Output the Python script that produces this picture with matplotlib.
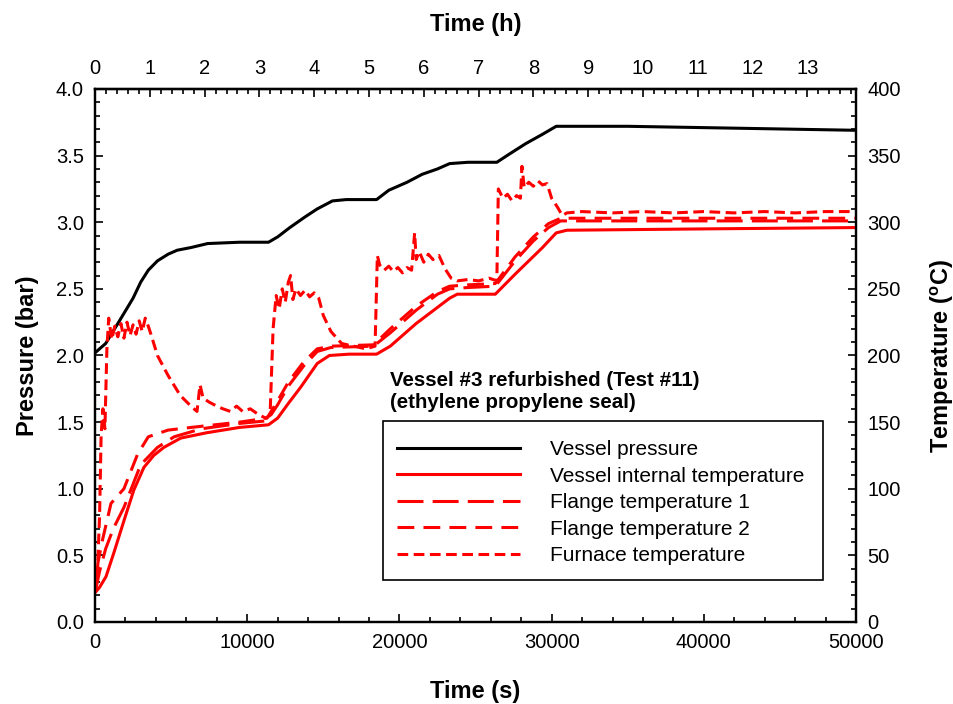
import matplotlib.pyplot as plt
from matplotlib.patches import Rectangle
from matplotlib.ticker import MultipleLocator

plt.rcParams['font.family'] = ['Liberation Sans', 'DejaVu Sans']
plt.rcParams['mathtext.fontset'] = 'custom'
plt.rcParams['mathtext.rm'] = 'Liberation Sans'
plt.rcParams['mathtext.bf'] = 'Liberation Sans:bold'

# Vessel pressure (bar)
pressure_t = [0, 700, 1500, 2500, 3000, 3500, 4100, 4800, 5400, 6300, 7400, 9500, 11400,
              12000, 12800, 13800, 14600, 15600, 16500, 18500, 19300, 20500, 21500,
              22500, 23300, 24500, 26400, 27200, 28300, 29400, 30300, 31000, 35000,
              40000, 45000, 50000]
pressure_bar = [2.02, 2.09, 2.24, 2.43, 2.55, 2.64, 2.71, 2.76, 2.79, 2.81, 2.84, 2.85, 2.85,
                2.89, 2.96, 3.04, 3.10, 3.16, 3.17, 3.17, 3.24, 3.30, 3.36,
                3.40, 3.44, 3.45, 3.45, 3.51, 3.59, 3.66, 3.72, 3.72, 3.72,
                3.71, 3.70, 3.69]

# Vessel internal temperature (C)
internal_t = [0, 300, 720, 1240, 1900, 2550, 3210, 3860, 4520, 5630, 7330, 9490, 11400,
              12000, 12700, 13500, 14600, 15400, 16700, 18500, 19400, 21100, 23300,
              23800, 26300, 27600, 29400, 30300, 31000, 40000, 50000]
internal_temp = [22, 26, 34, 52, 76, 99, 116, 125, 131, 138, 142, 146, 148,
                 153, 164, 176, 194, 200, 201, 201, 207, 224, 243,
                 246, 246, 261, 281, 292, 294, 295, 296]

# Flange temperature 1 (C)
flange1_t = [0, 300, 700, 1200, 1900, 3000, 4100, 5200, 7000, 9500, 11300, 12000, 12700,
             13700, 14600, 15500, 18300, 19400, 21100, 22500, 23300, 24500, 26300,
             27600, 28800, 29800, 30600, 35000, 50000]
flange1_temp = [22, 38, 55, 70, 86, 118, 131, 139, 145, 149, 151, 163, 177,
                192, 203, 206, 207, 217, 234, 246, 250, 251, 252,
                271, 286, 296, 301, 301, 301]

# Flange temperature 2 (C)
flange2_t = [0, 200, 500, 1050, 1900, 2800, 3500, 4800, 6300, 9500, 11300, 12000, 12700,
             13700, 14600, 15500, 18300, 19400, 21100, 22500, 23300, 24500, 26300,
             27600, 28800, 29800, 30600, 35000, 50000]
flange2_temp = [22, 45, 62, 89, 100, 126, 139, 144, 146, 150, 153, 166, 180,
                195, 205, 207, 208, 220, 237, 248, 252, 253, 254,
                274, 289, 299, 303, 303, 303]

# Furnace temperature (C)
furnace_t = [0, 150, 300, 400, 520, 650, 780, 900, 1100, 1300, 1500, 1700, 1900, 2100,
             2300, 2500, 2700, 2900, 3100, 3300, 3500, 3700, 4100, 4800, 5600, 6300,
             6700, 6900, 7100, 7500, 8000, 8400, 8900, 9300, 9700, 10200, 10700, 11200,
             11500, 11700, 11900, 12100, 12300, 12500, 12700, 12850, 13000, 13200,
             13500, 13800, 14100, 14400, 14700, 15000, 15500, 16200, 17000, 17800,
             18400, 18550, 18700, 19000, 19300, 19600, 19900, 20200, 20500, 20800,
             21000, 21100, 21300, 21600, 21900, 22200, 22600, 23000, 23400, 23800,
             24500, 25200, 25900, 26400, 26500, 26800, 27100, 27400, 27700, 27950,
             28050, 28200, 28500, 28800, 29100, 29400, 29700, 30000, 30400, 30700,
             31000, 32000, 34000, 36000, 38000, 40000, 42000, 44000, 46000, 48000,
             50000]
furnace_temp = [22, 35, 80, 140, 160, 145, 205, 228, 212, 222, 214, 224, 213, 225,
                215, 223, 216, 226, 218, 228, 222, 215, 200, 185, 170, 162,
                158, 178, 168, 165, 162, 160, 158, 162, 158, 160, 156, 153,
                155, 220, 245, 235, 250, 240, 255, 260, 242, 250,
                245, 249, 244, 247, 243, 230, 218, 209, 207, 205,
                207, 275, 268, 264, 267, 263, 266, 262, 266, 264,
                292, 272, 278, 270, 276, 272, 275, 265, 258, 256,
                257, 256, 258, 256, 325, 318, 321, 316, 320, 318,
                342, 326, 330, 327, 331, 328, 329, 318, 311, 305,
                307, 308, 307, 308, 307, 308, 307, 308, 307, 308,
                308]

hour_ticks = list(range(0, 14))

fig = plt.figure(figsize=(9.54, 7.04), dpi=100)
ax = fig.add_axes([0.0996, 0.1165, 0.7977, 0.7571])
ax2 = ax.twinx()

lw = 2.2
p_line, = ax.plot(pressure_t, pressure_bar, color='black', lw=lw,
                  label='Vessel pressure')
i_line, = ax2.plot(internal_t, internal_temp, color='red', lw=lw,
                   label='Vessel internal temperature')
f1_line, = ax2.plot(flange1_t, flange1_temp, color='red', lw=lw,
                    dashes=(8.5, 3), label='Flange temperature 1')
f2_line, = ax2.plot(flange2_t, flange2_temp, color='red', lw=lw,
                    dashes=(5.5, 3), label='Flange temperature 2')
fu_line, = ax2.plot(furnace_t, furnace_temp, color='red', lw=lw,
                    dashes=(3.5, 1.8), label='Furnace temperature')

ax.set_xlim(0, 50000)
ax.set_ylim(0, 4.0)
ax2.set_ylim(0, 400)

ax.xaxis.set_major_locator(MultipleLocator(10000))
ax.xaxis.set_minor_locator(MultipleLocator(2000))
ax.yaxis.set_major_locator(MultipleLocator(0.5))
ax.yaxis.set_minor_locator(MultipleLocator(0.1))
ax.yaxis.set_major_formatter(plt.FormatStrFormatter('%.1f'))
ax2.yaxis.set_major_locator(MultipleLocator(50))
ax2.yaxis.set_minor_locator(MultipleLocator(10))

secax = ax.secondary_xaxis('top', functions=(lambda s: s / 3600.0,
                                             lambda h: h * 3600.0))
secax.set_xticks(hour_ticks)
secax.xaxis.set_minor_locator(MultipleLocator(0.2))

tick_kw = dict(direction='in', labelsize=14.5, width=1.2, pad=8)
ax.tick_params(axis='both', which='major', length=6, top=False, right=False, **tick_kw)
ax.tick_params(axis='both', which='minor', length=3.3, top=False, right=False,
               direction='in', width=1.2)
ax2.tick_params(axis='y', which='major', length=6, **tick_kw)
ax2.tick_params(axis='y', which='minor', length=3.3, direction='in', width=1.2)
secax.tick_params(axis='x', which='major', length=6, **tick_kw)
secax.tick_params(axis='x', which='minor', length=3.3, direction='in', width=1.2)

for a in (ax, ax2):
    for sp in a.spines.values():
        sp.set_linewidth(1.6)
secax.spines['top'].set_linewidth(1.6)

label_kw = dict(fontsize=17, fontweight='bold')
ax.set_xlabel('Time (s)', labelpad=20, **label_kw)
ax.set_ylabel('Pressure (bar)', labelpad=12, **label_kw)
ax2.set_ylabel(r'Temperature ($\mathbf{^o}$C)', labelpad=20, **label_kw)
secax.set_xlabel('Time (h)', labelpad=20, **label_kw)

ax2.text(0.388, 0.432, 'Vessel #3 refurbished (Test #11)\n(ethylene propylene seal)',
         transform=ax2.transAxes, ha='left', va='center', fontsize=14.8,
         fontweight='bold')

# legend box drawn separately so its padding can differ per side
box = Rectangle((0.3785, 0.0788), 0.5781, 0.2983, transform=ax2.transAxes,
                facecolor='white', edgecolor='black', linewidth=1.2, zorder=4.5)
ax2.add_patch(box)
leg = ax2.legend(handles=[p_line, i_line, f1_line, f2_line, fu_line],
                 loc='upper left', bbox_to_anchor=(0.3968, 0.341), borderaxespad=0,
                 borderpad=0, fontsize=15, handlelength=5.9, handletextpad=1.44,
                 labelspacing=0.36, frameon=False)
leg.set_zorder(5)

fig.savefig('out.png', dpi=100)
